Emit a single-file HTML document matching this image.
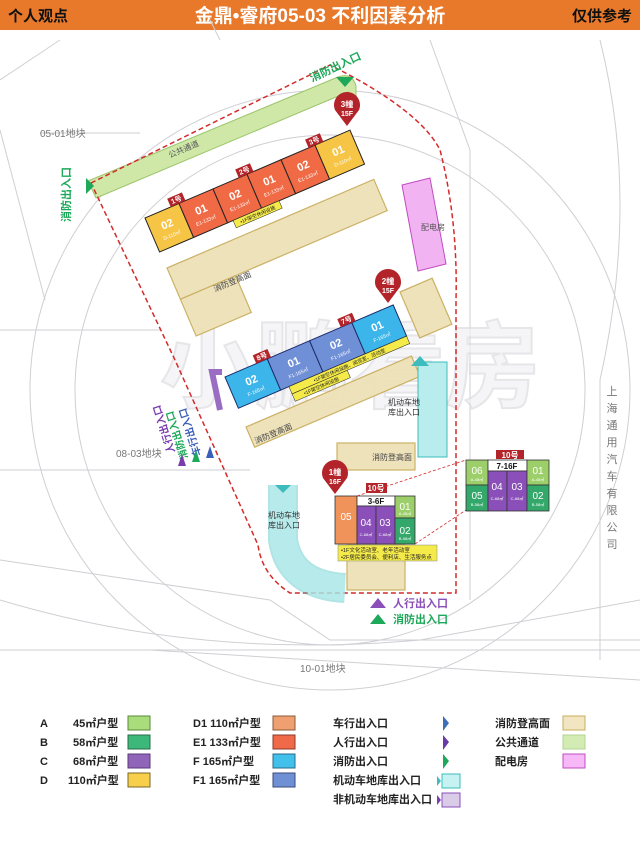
<!DOCTYPE html>
<html><head><meta charset="utf-8"><style>
html,body{margin:0;padding:0;background:#fff;}
body{width:640px;height:854px;overflow:hidden;font-family:"Liberation Sans","Noto Sans CJK SC",sans-serif;}
svg text{font-family:"Liberation Sans","Noto Sans CJK SC",sans-serif;}
</style></head><body>
<svg width="640" height="854" viewBox="0 0 640 854" xmlns="http://www.w3.org/2000/svg">
<rect x="0" y="0" width="640" height="30" fill="#E8792B"/>
<text x="8" y="21" font-size="15" font-weight="bold" fill="#111">个人观点</text>
<text x="320" y="22" font-size="19" font-weight="bold" fill="#fff" text-anchor="middle">金鼎•睿府05-03 不利因素分析</text>
<text x="632" y="21" font-size="15" font-weight="bold" fill="#111" text-anchor="end">仅供参考</text>

<g fill="none" stroke="#cfcfd4" stroke-width="1">
<circle cx="330" cy="390" r="300"/>
<circle cx="330" cy="390" r="255"/>
<path d="M0,80 L60,40 M0,130 L45,300 M40,133 L140,133 M0,330 L160,330 M0,470 L250,470 M0,560 L270,600 L330,640 L640,640"/>
<path d="M600,40 Q640,200 600,380 M600,660 L600,380"/>
<path d="M0,600 Q200,660 420,640 L640,600 M0,650 L640,650 M150,650 L640,680"/>
<path d="M220,40 L210,20 M430,40 L470,150 L470,600"/>
</g>
<text x="350" y="400" font-size="95" font-weight="bold" fill="#f2f2f4" stroke="#dcdce0" stroke-width="2" text-anchor="middle" opacity="0.7">小鹏看房</text>

<path d="M88,181 L338,77 Q352,72 356,86 L356,100 L348,92 L96,198 Z" fill="#cfe8a8" stroke="#9cc46a"/>
<text transform="translate(170,158) rotate(-23)" font-size="8" fill="#555">公共通道</text>

<path d="M91,183 L330,65 Q420,110 440,150 Q458,220 456,300 L456,593 L290,593 Q262,575 258,545 L175,360 Z" fill="none" stroke="#d42a2a" stroke-width="1.5" stroke-dasharray="5,3"/>

<g fill="#eee1b8" stroke="#c9ad5c" stroke-width="1.2" opacity="0.95">
<g transform="translate(167,268) rotate(-23.2)"><rect x="0" y="0" width="225" height="34"/><rect x="0" y="34" width="60" height="40"/></g>
<g transform="translate(246,427) rotate(-23.2)"><rect x="0" y="0" width="180" height="22"/></g>
<g transform="translate(400,292) rotate(-23.2)"><rect x="0" y="0" width="35" height="50"/></g>
<rect x="337" y="443" width="78" height="27"/>
<rect x="347" y="545" width="58" height="45"/>
</g>
<text transform="translate(215,292) rotate(-23)" font-size="8" fill="#444">消防登高面</text>
<text transform="translate(256,444) rotate(-23)" font-size="8" fill="#444">消防登高面</text>
<text x="372" y="460" font-size="8" fill="#444">消防登高面</text>

<polygon points="402,185 430,178 446,264 418,271" fill="#f2b3f2" stroke="#c04cc0"/>
<text x="421" y="230" font-size="8" fill="#555">配电房</text>

<rect x="418" y="362" width="29" height="95" fill="#b9ecec" stroke="#3cbcbc"/>
<path d="M283,485 L283,540 Q290,585 345,588" fill="none" stroke="#3cbcbc" stroke-width="30" opacity="0.4"/>
<path d="M283,485 L283,540 Q290,585 345,588" fill="none" stroke="#b9ecec" stroke-width="26" opacity="0.7"/>
<polygon points="411,366 420,356 429,366" fill="#3cbcbc"/>
<text x="388" y="405" font-size="8" fill="#333">机动车地</text>
<text x="388" y="415" font-size="8" fill="#333">库出入口</text>
<text x="268" y="518" font-size="8" fill="#333">机动车地</text>
<text x="268" y="528" font-size="8" fill="#333">库出入口</text>
<polygon points="275,485 291,485 283,493" fill="#3cbcbc"/>
<path d="M222,372 L212,372 L220,410" fill="none" stroke="#9b6cc4" stroke-width="6"/>

<g transform="translate(145,218) rotate(-23.2)" stroke="#222" stroke-width="1">
<rect x="0" y="0" width="37" height="37" fill="#f7c545"/>
<rect x="37" y="0" width="37" height="37" fill="#f06a45"/>
<rect x="74" y="0" width="37" height="37" fill="#f06a45"/>
<rect x="111" y="0" width="37" height="37" fill="#f06a45"/>
<rect x="148" y="0" width="37" height="37" fill="#f06a45"/>
<rect x="185" y="0" width="38" height="37" fill="#f7c545"/>
<g fill="#fff" stroke="none" text-anchor="middle">
<text x="18" y="18" font-size="11" font-weight="bold">02</text><text x="18" y="28" font-size="5">D-110㎡</text>
<text x="55" y="18" font-size="11" font-weight="bold">01</text><text x="55" y="28" font-size="5">E1-133㎡</text>
<text x="92" y="18" font-size="11" font-weight="bold">02</text><text x="92" y="28" font-size="5">E1-133㎡</text>
<text x="129" y="18" font-size="11" font-weight="bold">01</text><text x="129" y="28" font-size="5">E1-133㎡</text>
<text x="166" y="18" font-size="11" font-weight="bold">02</text><text x="166" y="28" font-size="5">E1-133㎡</text>
<text x="204" y="18" font-size="11" font-weight="bold">01</text><text x="204" y="28" font-size="5">D-110㎡</text>
</g>
<g stroke="none"><rect x="28" y="-9" width="16" height="9" fill="#b3242a"/><rect x="102" y="-9" width="16" height="9" fill="#b3242a"/><rect x="178" y="-9" width="16" height="9" fill="#b3242a"/>
<g fill="#fff" font-size="7" font-weight="bold" text-anchor="middle"><text x="36" y="-2">1号</text><text x="110" y="-2">2号</text><text x="186" y="-2">3号</text></g>
<rect x="80" y="37" width="50" height="8" fill="#f4ea4a" stroke="#222" stroke-width="0.5"/><text x="105" y="43" font-size="5" text-anchor="middle" fill="#222">•1F架空休闲设施</text></g>
</g>

<g transform="translate(225,377) rotate(-23.2)" stroke="#1b2c6a" stroke-width="1">
<rect x="0" y="0" width="46" height="34" fill="#3cb6ea"/>
<rect x="46" y="0" width="46" height="34" fill="#6f8fd6"/>
<rect x="92" y="0" width="46" height="34" fill="#6f8fd6"/>
<rect x="138" y="0" width="45" height="34" fill="#3cb6ea"/>
<g fill="#fff" stroke="none" text-anchor="middle">
<text x="23" y="17" font-size="11" font-weight="bold">02</text><text x="23" y="27" font-size="5">F-165㎡</text>
<text x="69" y="17" font-size="11" font-weight="bold">01</text><text x="69" y="27" font-size="5">F1-165㎡</text>
<text x="115" y="17" font-size="11" font-weight="bold">02</text><text x="115" y="27" font-size="5">F1-165㎡</text>
<text x="160" y="17" font-size="11" font-weight="bold">01</text><text x="160" y="27" font-size="5">F-165㎡</text>
</g>
<g stroke="none"><rect x="34" y="-9" width="16" height="9" fill="#b3242a"/><rect x="126" y="-9" width="16" height="9" fill="#b3242a"/>
<g fill="#fff" font-size="7" font-weight="bold" text-anchor="middle"><text x="42" y="-2">8号</text><text x="134" y="-2">7号</text></g>
<rect x="55" y="34" width="128" height="8" fill="#f4ea4a" stroke="#222" stroke-width="0.5"/><text x="119" y="40" font-size="5" text-anchor="middle" fill="#222">•1F架空休闲设施、阅览室、活动室</text>
<rect x="55" y="42" width="60" height="8" fill="#f4ea4a" stroke="#222" stroke-width="0.5"/><text x="85" y="48" font-size="5" text-anchor="middle" fill="#222">•1F架空休闲设施</text></g>
</g>

<g text-anchor="middle" font-weight="bold" fill="#fff">
<path d="M335,110 a13,13 0 1,1 24,0 L347,126 Z" fill="#b3242a"/><text x="347" y="107" font-size="8">3幢</text><text x="347" y="116" font-size="7">15F</text>
<path d="M376,287 a13,13 0 1,1 24,0 L388,303 Z" fill="#b3242a"/><text x="388" y="284" font-size="8">2幢</text><text x="388" y="293" font-size="7">15F</text>
<path d="M323,478 a13,13 0 1,1 24,0 L335,494 Z" fill="#b3242a"/><text x="335" y="475" font-size="8">1幢</text><text x="335" y="484" font-size="7">16F</text>
</g>

<g stroke="#333" stroke-width="0.8">
<rect x="335" y="496" width="22" height="48" fill="#f0935a"/>
<rect x="357" y="496" width="38" height="10" fill="#fff"/>
<rect x="357" y="506" width="19" height="38" fill="#8a4fb8"/>
<rect x="376" y="506" width="19" height="38" fill="#8a4fb8"/>
<rect x="395" y="496" width="20" height="22" fill="#9ccf6a"/>
<rect x="395" y="518" width="20" height="26" fill="#34a86a"/>
</g>
<rect x="366" y="483" width="21" height="10" fill="#b3242a"/>
<g text-anchor="middle" fill="#fff">
<text x="376" y="491" font-size="8" font-weight="bold">10号</text>
<text x="376" y="504" font-size="8" font-weight="bold" fill="#111">3-6F</text>
<text x="346" y="520" font-size="10">05</text><text x="366" y="526" font-size="10">04</text><text x="385" y="526" font-size="10">03</text>
<text x="405" y="510" font-size="10">01</text><text x="405" y="534" font-size="10">02</text>
<text x="366" y="536" font-size="4">C-68㎡</text><text x="385" y="536" font-size="4">C-68㎡</text><text x="405" y="515" font-size="4">A-45㎡</text><text x="405" y="540" font-size="4">B-58㎡</text>
</g>
<rect x="338" y="545" width="99" height="16" fill="#f4ea4a" stroke="#888" stroke-width="0.5"/>
<text x="341" y="552" font-size="5.5" fill="#222">•1F文化活动室、老年活动室</text>
<text x="341" y="559" font-size="5.5" fill="#222">•2F居民委员会、便利店、生活服务点</text>
<path d="M357,496 L466,460 M415,544 L466,510" stroke="#d42a2a" stroke-width="0.8" stroke-dasharray="3,2"/>

<g stroke="#333" stroke-width="0.8">
<rect x="466" y="460" width="22" height="25" fill="#9ccf6a"/>
<rect x="466" y="485" width="22" height="26" fill="#34a86a"/>
<rect x="488" y="460" width="39" height="11" fill="#fff"/>
<rect x="488" y="471" width="19" height="40" fill="#8a4fb8"/>
<rect x="507" y="471" width="20" height="40" fill="#8a4fb8"/>
<rect x="527" y="460" width="22" height="25" fill="#9ccf6a"/>
<rect x="527" y="485" width="22" height="26" fill="#34a86a"/>
</g>
<rect x="496" y="450" width="28" height="9" fill="#b3242a"/>
<g text-anchor="middle" fill="#fff">
<text x="510" y="458" font-size="8" font-weight="bold">10号</text>
<text x="507" y="469" font-size="8" font-weight="bold" fill="#111">7-16F</text>
<text x="477" y="474" font-size="10">06</text><text x="477" y="499" font-size="10">05</text>
<text x="497" y="490" font-size="10">04</text><text x="517" y="490" font-size="10">03</text>
<text x="538" y="474" font-size="10">01</text><text x="538" y="499" font-size="10">02</text>
<text x="477" y="481" font-size="4">A-45㎡</text><text x="477" y="506" font-size="4">B-58㎡</text><text x="497" y="500" font-size="4">C-68㎡</text><text x="517" y="500" font-size="4">C-68㎡</text><text x="538" y="481" font-size="4">A-45㎡</text><text x="538" y="506" font-size="4">B-58㎡</text>
</g>

<g font-weight="bold" font-size="11">
<text transform="translate(312,82) rotate(-25)" fill="#1ea85a">消防出入口</text>
<polygon points="336,77 354,77 345,87" fill="#1ea85a"/>
<text transform="translate(70,222) rotate(-90)" fill="#1ea85a">消防出入口</text>
<polygon points="86,178 86,194 94,186" fill="#1ea85a"/>
<text transform="translate(201,455) rotate(-108)" fill="#3b5fb8" font-size="10">车行出入口</text>
<text transform="translate(188,458) rotate(-108)" fill="#1ea85a" font-size="10">消防出入口</text>
<text transform="translate(175,452) rotate(-108)" fill="#7a3ab0" font-size="10">人行出入口</text>
<polygon points="206,458 214,458 210,446" fill="#3b5fb8"/>
<polygon points="192,462 200,462 196,450" fill="#1ea85a"/>
<polygon points="178,466 186,466 182,454" fill="#7a3ab0"/>
<polygon points="370,608 386,608 378,598" fill="#8a4fb8"/>
<text x="393" y="607" fill="#8a4fb8">人行出入口</text>
<polygon points="370,624 386,624 378,614" fill="#1ea85a"/>
<text x="393" y="623" fill="#1ea85a">消防出入口</text>
</g>

<g font-size="10" fill="#777">
<text x="40" y="137">05-01地块</text>
<text x="116" y="457">08-03地块</text>
<text x="300" y="672">10-01地块</text>
</g>
<g font-size="11" fill="#777" text-anchor="middle">
<text x="612" y="395">上</text><text x="612" y="412">海</text><text x="612" y="429">通</text><text x="612" y="446">用</text><text x="612" y="463">汽</text><text x="612" y="480">车</text><text x="612" y="497">有</text><text x="612" y="514">限</text><text x="612" y="531">公</text><text x="612" y="548">司</text>
</g>

<g font-size="11" font-weight="bold" fill="#222">
<text x="40" y="727">A</text><text x="73" y="727">45㎡户型</text>
<text x="40" y="746">B</text><text x="73" y="746">58㎡户型</text>
<text x="40" y="765">C</text><text x="73" y="765">68㎡户型</text>
<text x="40" y="784">D</text><text x="68" y="784">110㎡户型</text>
<text x="193" y="727">D1 110㎡户型</text>
<text x="193" y="746">E1  133㎡户型</text>
<text x="193" y="765">F   165㎡户型</text>
<text x="193" y="784">F1  165㎡户型</text>
<text x="333" y="727">车行出入口</text>
<text x="333" y="746">人行出入口</text>
<text x="333" y="765">消防出入口</text>
<text x="333" y="784">机动车地库出入口</text>
<text x="333" y="803">非机动车地库出入口</text>
<text x="495" y="727">消防登高面</text>
<text x="495" y="746">公共通道</text>
<text x="495" y="765">配电房</text>
</g>
<g stroke-width="1">
<rect x="128" y="716" width="22" height="14" fill="#a9dc7a" stroke="#5a8a3a"/>
<rect x="128" y="735" width="22" height="14" fill="#3cb87a" stroke="#2a6a4a"/>
<rect x="128" y="754" width="22" height="14" fill="#9064b8" stroke="#5a3a7a"/>
<rect x="128" y="773" width="22" height="14" fill="#f7cf4a" stroke="#7a6a2a"/>
<rect x="273" y="716" width="22" height="14" fill="#f0a070" stroke="#8a5a3a"/>
<rect x="273" y="735" width="22" height="14" fill="#f06a4a" stroke="#8a3a2a"/>
<rect x="273" y="754" width="22" height="14" fill="#40c0ea" stroke="#2a6a8a"/>
<rect x="273" y="773" width="22" height="14" fill="#7090d6" stroke="#3a4a7a"/>
<rect x="563" y="716" width="22" height="14" fill="#f2e6c2" stroke="#c9ad5c"/>
<rect x="563" y="735" width="22" height="14" fill="#d2ecb4" stroke="#b0d490"/>
<rect x="563" y="754" width="22" height="14" fill="#f6b8f6" stroke="#c04cc0"/>
<rect x="442" y="774" width="18" height="14" fill="#c6f2f2" stroke="#3cbcbc"/>
<rect x="442" y="793" width="18" height="14" fill="#d8cce8" stroke="#8a4fb8"/>
</g>
<polygon points="443,716 449,723 443,731" fill="#3b6fb8"/>
<polygon points="443,735 449,742 443,750" fill="#6a3aa8"/>
<polygon points="443,754 449,761 443,769" fill="#1ea85a"/>
<polygon points="437,776 441,781 437,786" fill="#3cbcbc"/>
<polygon points="437,795 441,800 437,805" fill="#7a3ab0"/>
</svg>
</body></html>
